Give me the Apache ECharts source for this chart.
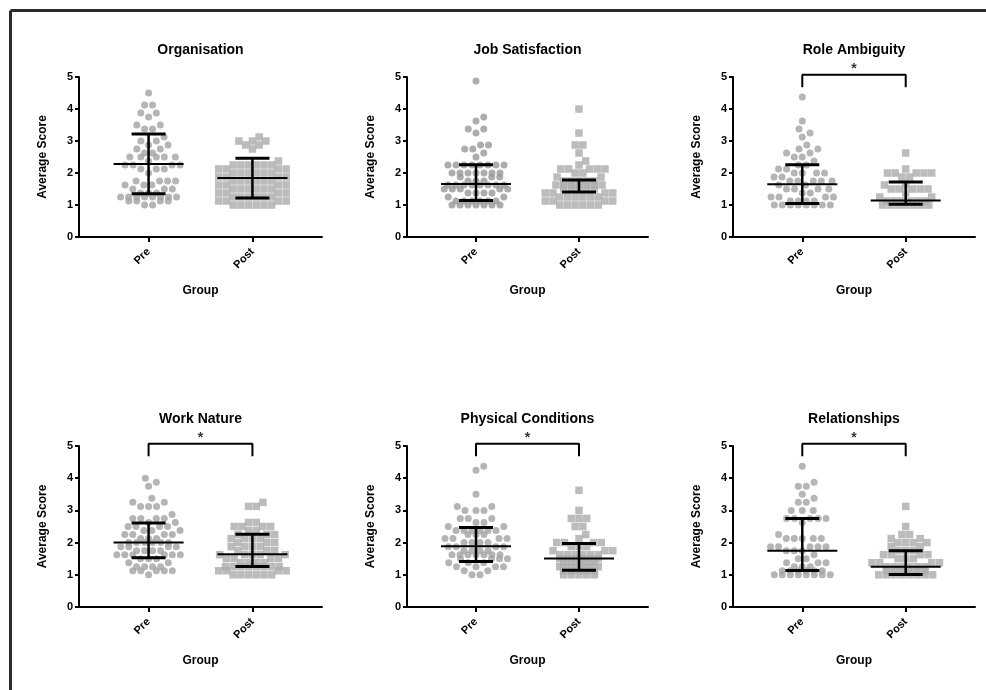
<!DOCTYPE html>
<html><head><meta charset="utf-8">
<script src="https://cdn.jsdelivr.net/npm/echarts@6/dist/echarts.min.js"></script>
<style>html,body{margin:0;padding:0;background:#fff}#c{width:986px;height:690px}</style>
</head><body><div id="c"></div>
<script>
// ---------- data ----------
const groups = ['Pre', 'Post'];
const panelTitles = ['Organisation', 'Job Satisfaction', 'Role Ambiguity', 'Work Nature', 'Physical Conditions', 'Relationships'];
const yTicks = [0, 1, 2, 3, 4, 5];

const orgPre = [4.5,4.125,4.125,3.875,3.875,3.75,3.5,3.5,3.375,3.375,3.125,3.0,3.0,2.875,2.875,2.75,2.75,2.625,2.625,2.5,2.5,2.5,2.5,2.5,2.375,2.25,2.25,2.25,2.25,2.125,2.125,2.125,2.0,1.75,1.75,1.75,1.75,1.625,1.625,1.625,1.5,1.5,1.5,1.375,1.375,1.375,1.25,1.25,1.25,1.25,1.25,1.25,1.25,1.25,1.125,1.125,1.125,1.125,1.0,1.0];
const orgPost = [3.125,3.0,3.0,3.0,2.875,2.875,2.75,2.375,2.25,2.25,2.25,2.25,2.25,2.25,2.125,2.125,2.125,2.125,2.0,2.0,2.0,2.0,2.0,2.0,1.875,1.875,1.875,1.875,1.75,1.75,1.75,1.75,1.75,1.75,1.625,1.625,1.625,1.625,1.5,1.5,1.5,1.5,1.5,1.5,1.375,1.375,1.375,1.375,1.25,1.25,1.25,1.25,1.25,1.25,1.125,1.125,1.125,1.125,1.0,1.0,1.0,1.0,1.0,1.0];
const jsPre = [4.875,3.75,3.625,3.375,3.375,3.25,2.875,2.875,2.75,2.75,2.625,2.5,2.25,2.25,2.25,2.25,2.25,2.25,2.25,2.25,2.0,2.0,2.0,2.0,2.0,2.0,2.0,1.875,1.875,1.875,1.75,1.75,1.75,1.625,1.625,1.625,1.625,1.625,1.625,1.625,1.625,1.5,1.5,1.5,1.5,1.5,1.375,1.375,1.375,1.375,1.25,1.25,1.125,1.125,1.125,1.125,1.125,1.125,1.0,1.0,1.0,1.0,1.0,1.0,1.0];
const jsPost = [4.0,3.25,2.875,2.875,2.625,2.375,2.25,2.125,2.125,2.125,2.125,2.125,2.0,2.0,1.875,1.875,1.75,1.75,1.75,1.75,1.75,1.625,1.625,1.625,1.625,1.625,1.625,1.625,1.5,1.5,1.5,1.5,1.5,1.375,1.375,1.375,1.375,1.25,1.25,1.25,1.25,1.25,1.25,1.125,1.125,1.125,1.125,1.0,1.0,1.0,1.0,1.0,1.0];
const raPre = [4.375,3.625,3.375,3.25,3.125,2.875,2.75,2.75,2.625,2.625,2.5,2.5,2.375,2.25,2.25,2.125,2.125,2.0,2.0,2.0,2.0,1.875,1.875,1.75,1.75,1.75,1.75,1.75,1.625,1.625,1.5,1.5,1.5,1.5,1.375,1.375,1.25,1.25,1.25,1.25,1.125,1.125,1.125,1.125,1.0,1.0,1.0,1.0,1.0,1.0,1.0,1.0];
const raPost = [2.625,2.125,2.0,2.0,2.0,2.0,2.0,1.875,1.875,1.625,1.625,1.5,1.5,1.5,1.5,1.5,1.375,1.25,1.25,1.125,1.125,1.125,1.125,1.125,1.125,1.0,1.0,1.0,1.0,1.0,1.0,1.0];
const wnPre = [4.0,3.875,3.75,3.375,3.25,3.25,3.125,3.125,3.125,2.875,2.75,2.75,2.75,2.75,2.625,2.625,2.5,2.5,2.5,2.5,2.375,2.375,2.375,2.25,2.25,2.25,2.25,2.125,2.125,2.125,2.0,2.0,2.0,2.0,2.0,2.0,1.875,1.875,1.875,1.875,1.75,1.75,1.75,1.75,1.625,1.625,1.625,1.625,1.625,1.625,1.5,1.5,1.5,1.375,1.375,1.25,1.25,1.25,1.25,1.125,1.125,1.125,1.125,1.125,1.0];
const wnPost = [3.25,3.125,3.125,2.625,2.625,2.5,2.5,2.5,2.5,2.375,2.375,2.25,2.25,2.25,2.125,2.125,2.125,2.125,2.0,2.0,2.0,1.875,1.875,1.875,1.875,1.75,1.75,1.75,1.625,1.625,1.625,1.625,1.625,1.5,1.5,1.5,1.5,1.375,1.375,1.375,1.375,1.25,1.25,1.25,1.25,1.25,1.25,1.25,1.25,1.125,1.125,1.125,1.125,1.0,1.0,1.0,1.0,1.0,1.0];
const pcPre = [4.375,4.25,3.5,3.125,3.125,3.0,3.0,3.0,2.75,2.75,2.75,2.625,2.625,2.5,2.5,2.375,2.375,2.375,2.375,2.375,2.375,2.25,2.25,2.25,2.125,2.125,2.125,2.125,2.0,2.0,2.0,2.0,1.875,1.875,1.875,1.875,1.75,1.75,1.75,1.75,1.625,1.625,1.625,1.625,1.625,1.625,1.625,1.5,1.5,1.5,1.5,1.375,1.375,1.375,1.25,1.25,1.25,1.25,1.125,1.125,1.0,1.0];
const pcPost = [3.625,3.0,2.75,2.75,2.75,2.5,2.5,2.25,2.125,2.0,2.0,2.0,2.0,1.875,1.875,1.875,1.75,1.75,1.75,1.625,1.625,1.625,1.625,1.625,1.625,1.5,1.5,1.5,1.5,1.5,1.5,1.375,1.375,1.375,1.375,1.375,1.25,1.25,1.25,1.25,1.25,1.25,1.125,1.125,1.125,1.125,1.125,1.0,1.0,1.0,1.0,1.0];
const relPre = [4.375,3.875,3.75,3.75,3.5,3.375,3.25,3.25,3.0,3.0,3.0,2.75,2.75,2.75,2.75,2.75,2.625,2.25,2.125,2.125,2.125,2.125,2.125,1.875,1.875,1.875,1.875,1.875,1.75,1.75,1.75,1.625,1.5,1.5,1.375,1.375,1.375,1.25,1.25,1.25,1.125,1.125,1.125,1.125,1.125,1.125,1.0,1.0,1.0,1.0,1.0,1.0,1.0,1.0];
const relPost = [3.125,2.5,2.25,2.25,2.125,2.125,2.0,2.0,2.0,2.0,1.875,1.875,1.75,1.75,1.75,1.625,1.625,1.625,1.625,1.5,1.5,1.5,1.375,1.375,1.375,1.375,1.25,1.25,1.25,1.25,1.25,1.25,1.125,1.125,1.125,1.125,1.125,1.125,1.0,1.0,1.0,1.0,1.0,1.0,1.0,1.0];

// median, Q1, Q3 per group (Pre, Post); '-' = not visible
const orgStats = [[2.28, 1.35, 3.22], [1.84, 1.22, 2.46]];
const jsStats  = [[1.66, 1.14, 2.26], ['-', 1.41, 1.78]];
const raStats  = [[1.65, 1.05, 2.26], [1.14, 1.02, 1.72]];
const wnStats  = [[2.00, 1.53, 2.61], [1.64, 1.26, 2.26]];
const pcStats  = [[1.89, 1.41, 2.47], [1.51, 1.14, 1.97]];
const relStats = [[1.75, 1.13, 2.75], [1.25, 1.01, 1.75]];

const significant = [false, false, true, true, true, true];
const bracketTop = 5.07, bracketDrop = 4.68;

// ---------- layout ----------
const colLeft = [79, 407, 733], colWidth = [243, 241, 242];
const rowTop = [77, 446], rowHeight = [160, 161];
const titleY = [50, 419];
const xMin = 0.33, xMax = 2.67;
const FONT = '"Liberation Sans", Arial, sans-serif';

const panels = [
  [orgPre, orgPost, orgStats], [jsPre, jsPost, jsStats], [raPre, raPost, raStats],
  [wnPre, wnPost, wnStats], [pcPre, pcPost, pcStats], [relPre, relPost, relStats]
];

// beeswarm layout: each row of equal values is centred; rows that would
// collide with rows already placed are pushed sideways; when that makes a
// row wider than the column, the row is centred and squeezed (points overlap).
function swarm(vals, cx, pxX, pxY, s, D, L) {
  const sorted = vals.slice().sort((a, b) => a - b);
  const rows = [];
  sorted.forEach(v => {
    if (rows.length && rows[rows.length - 1][0] === v) rows[rows.length - 1][1]++;
    else rows.push([v, 1]);
  });
  const placed = [], out = [];
  rows.forEach(([v, n]) => {
    const y = v * pxY;
    const free = x => placed.every(p => {
      const dx = p[0] - x, dy = p[1] - y;
      return dx * dx + dy * dy >= D * D - 1e-6;
    });
    const centred = sp => { const a = []; for (let i = 0; i < n; i++) a.push((i - (n - 1) / 2) * sp); return a; };
    let xs = centred(s);
    if (!xs.every(free)) {
      xs = [];
      for (let j = 0; j < n; j++) {
        const left = xs.filter(x => x < 0).length, right = xs.filter(x => x > 0).length;
        const prefer = right <= left ? 1 : -1;
        let best = 0;
        for (let k = 0; k < 8000; k++) {
          const m = Math.ceil(k / 2) * 0.25;
          const c = k === 0 ? 0 : (k % 2 === 1 ? prefer : -prefer) * m;
          if (free(c) && xs.every(x => Math.abs(x - c) >= s - 1e-6)) { best = c; break; }
        }
        xs.push(best);
      }
    }
    const ext = Math.max(...xs.map(Math.abs));
    if (ext > L) {
      const sp = n > 1 ? Math.min(s, 2 * L / (n - 1)) : s;
      const c = centred(sp);
      const offset = n > 1 ? 0 : 0;
      xs = c.map(x => x + offset);
    }
    xs.forEach(x => { placed.push([x, y]); out.push([cx + x / pxX, v]); });
  });
  return out;
}

function statsRender(params, api) {
  const x = api.value(0), med = api.value(1), q1 = api.value(2), q3 = api.value(3);
  const c1 = api.coord([x, q1]), c3 = api.coord([x, q3]);
  const st = w => ({ stroke: '#000', lineWidth: w });
  const children = [
    { type: 'line', shape: { x1: c1[0], y1: c1[1], x2: c3[0], y2: c3[1] }, style: st(2.5) },
    { type: 'line', shape: { x1: c1[0] - 17, y1: c1[1], x2: c1[0] + 17, y2: c1[1] }, style: st(3) },
    { type: 'line', shape: { x1: c3[0] - 17, y1: c3[1], x2: c3[0] + 17, y2: c3[1] }, style: st(3) }
  ];
  if (!isNaN(med)) {
    const cm = api.coord([x, med]);
    children.push({ type: 'line', shape: { x1: cm[0] - 35, y1: cm[1], x2: cm[0] + 35, y2: cm[1] }, style: st(2) });
  }
  return { type: 'group', children };
}

const grid = [], xAxis = [], yAxis = [], series = [];
const graphic = [
  { type: 'line', shape: { x1: 10.5, y1: 10.5, x2: 986, y2: 10.5 }, style: { stroke: '#2b2b2b', lineWidth: 3 } },
  { type: 'line', shape: { x1: 10.5, y1: 10.5, x2: 10.5, y2: 690 }, style: { stroke: '#2b2b2b', lineWidth: 3 } }
];

panels.forEach((p, i) => {
  const col = i % 3, row = Math.floor(i / 3);
  const W = colWidth[col], H = rowHeight[row];
  grid.push({ left: colLeft[col], top: rowTop[row], width: W, height: H });
  const pxX = W / (xMax - xMin), pxY = H / 5;
  xAxis.push({
    gridIndex: i, type: 'value', min: xMin, max: xMax,
    axisLine: { show: true, lineStyle: { color: '#000', width: 2 } },
    axisTick: { show: true, customValues: [1, 2], length: 5, lineStyle: { color: '#000', width: 2 } },
    axisLabel: { customValues: [1, 2], rotate: 45, margin: 13, formatter: v => groups[Math.round(v) - 1],
      fontFamily: FONT, fontWeight: 'bold', fontSize: 11, color: '#000' },
    splitLine: { show: false },
    name: 'Group', nameLocation: 'middle', nameGap: 48,
    nameTextStyle: { fontFamily: FONT, fontWeight: 'bold', fontSize: 12, color: '#000' }
  });
  yAxis.push({
    gridIndex: i, type: 'value', min: yTicks[0], max: yTicks[yTicks.length - 1], interval: 1,
    axisLine: { show: true, lineStyle: { color: '#000', width: 2 } },
    axisTick: { show: true, length: 4, lineStyle: { color: '#000', width: 2 } },
    axisLabel: { margin: 6, fontFamily: FONT, fontWeight: 'bold', fontSize: 11, color: '#000' },
    splitLine: { show: false },
    name: 'Average Score', nameLocation: 'middle', nameGap: 30,
    nameTextStyle: { fontFamily: FONT, fontWeight: 'bold', fontSize: 12, color: '#000' }
  });
  series.push({
    type: 'scatter', xAxisIndex: i, yAxisIndex: i, symbol: 'circle', symbolSize: 7,
    itemStyle: { color: i === 1 ? '#979797' : '#a3a3a3' }, silent: true, z: 2,
    data: swarm(p[0], 1, pxX, pxY, 8, 8.6, 32)
  });
  series.push({
    type: 'scatter', xAxisIndex: i, yAxisIndex: i, symbol: 'rect', symbolSize: 7.5,
    itemStyle: { color: '#ababab' }, silent: true, z: 2,
    data: swarm(p[1], 2, pxX, pxY, 7.7, 7.7, 34)
  });
  series.push({
    type: 'custom', xAxisIndex: i, yAxisIndex: i, renderItem: statsRender, silent: true, z: 5,
    encode: { x: 0, y: 2 },
    data: [[1, p[2][0][0], p[2][0][1], p[2][0][2]], [2, p[2][1][0], p[2][1][1], p[2][1][2]]]
  });
  if (significant[i]) {
    series.push({
      type: 'line', xAxisIndex: i, yAxisIndex: i, showSymbol: false, symbol: 'none', clip: false, silent: true, z: 6,
      lineStyle: { color: '#000', width: 2 },
      data: [[1, bracketDrop], [1, bracketTop], [2, bracketTop], [2, bracketDrop]]
    });
    series.push({
      type: 'scatter', xAxisIndex: i, yAxisIndex: i, symbolSize: 1, clip: false, silent: true, z: 6,
      itemStyle: { color: 'rgba(0,0,0,0)' },
      label: { show: true, position: 'top', distance: -2, formatter: '*', fontFamily: FONT, fontWeight: 'bold', fontSize: 14, color: '#000' },
      data: [[1.5, bracketTop]]
    });
  }
  graphic.push({
    type: 'text', x: colLeft[col] + W / 2, y: titleY[row],
    style: { text: panelTitles[i], fill: '#000', font: 'bold 14px ' + FONT, textAlign: 'center', textVerticalAlign: 'middle', align: 'center', verticalAlign: 'middle' }
  });
});

const chart = echarts.init(document.getElementById('c'), null, { renderer: 'canvas' });
chart.setOption({ animation: false, backgroundColor: '#fff', grid, xAxis, yAxis, series, graphic });
</script>
</body></html>
